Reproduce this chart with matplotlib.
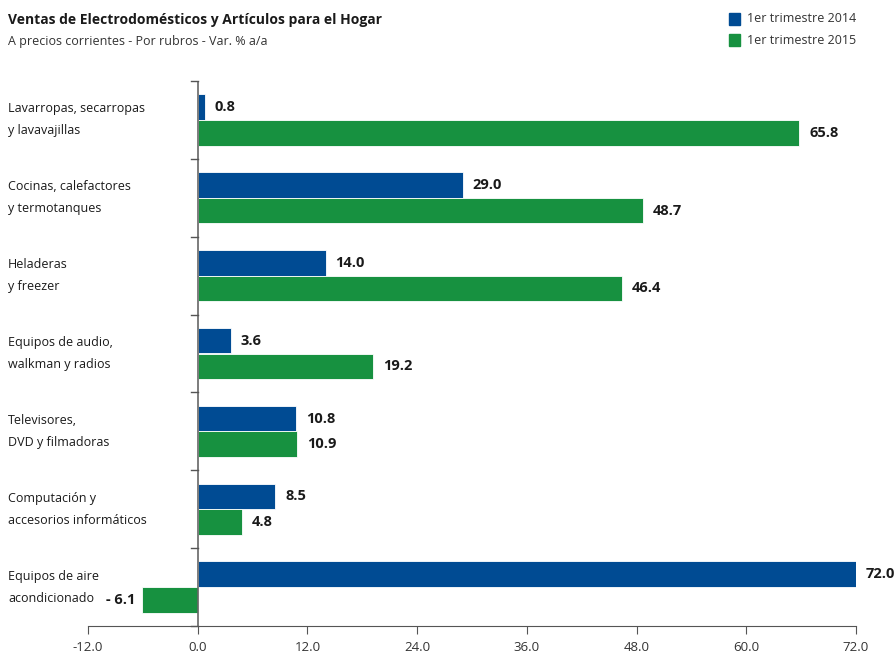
import numpy as np
import matplotlib.pyplot as plt
from matplotlib.patches import Rectangle

plt.rcParams['font.family'] = ['Open Sans', 'DejaVu Sans']

# rubros, de arriba hacia abajo
categories = [
    "Lavarropas, secarropas\ny lavavajillas",
    "Cocinas, calefactores\ny termotanques",
    "Heladeras\ny freezer",
    "Equipos de audio,\nwalkman y radios",
    "Televisores,\nDVD y filmadoras",
    "Computación y\naccesorios informáticos",
    "Equipos de aire\nacondicionado",
]
q1_2014 = [0.8, 29.0, 14.0, 3.6, 10.8, 8.5, 72.0]
q1_2015 = [65.8, 48.7, 46.4, 19.2, 10.9, 4.8, -6.1]
series_names = ["1er trimestre 2014", "1er trimestre 2015"]
xticks = [-12.0, 0.0, 12.0, 24.0, 36.0, 48.0, 60.0, 72.0]

BLUE = "#004b93"
GREEN = "#179140"
TXT = "#1a1a1a"

fig = plt.figure(figsize=(8.96, 6.53), dpi=100)
ax = fig.add_axes([88 / 896, 1 - 626 / 653, (856 - 88) / 896, (626 - 81) / 653])

n = len(categories)
centers = np.arange(n)
h = 0.33
ax.barh(centers - h / 2, q1_2014, height=h, color=BLUE, edgecolor="white", linewidth=0.6)
ax.barh(centers + h / 2, q1_2015, height=h, color=GREEN, edgecolor="white", linewidth=0.6)

ax.set_xlim(-12, 72)
ax.set_ylim(n - 0.5, -0.5)

# etiquetas de valor
for vals, off in ((q1_2014, -h / 2), (q1_2015, h / 2)):
    for i, v in enumerate(vals):
        if v >= 0:
            ax.annotate(f"{v:.1f}", (v, i + off), xytext=(7, 0), textcoords="offset points",
                        ha="left", va="center", fontsize=10.5, fontweight="bold", color=TXT)
        else:
            ax.annotate(f"- {abs(v):.1f}", (v, i + off), xytext=(-5, 0), textcoords="offset points",
                        ha="right", va="center", fontsize=10.5, fontweight="bold", color=TXT)

# ejes
for s in ("top", "right", "left"):
    ax.spines[s].set_visible(False)
ax.spines["bottom"].set_color("#555555")
ax.axvline(0, color="#666666", lw=1.2, zorder=3)
ax.set_xticks(xticks)
ax.set_xticklabels([f"{t:.1f}" for t in xticks], fontsize=9.5, color="#333333")
ax.tick_params(axis="x", length=6, color="#555555", pad=5)
ax.set_yticks([])
# marcas entre rubros sobre el eje del cero
for b in np.arange(-0.5, n, 1.0):
    ax.plot([-0.7, 0], [b, b], color="#555555", lw=1, clip_on=False, zorder=3)

# nombres de rubros
for i, c in enumerate(categories):
    y_disp = ax.transData.transform((0, i))[1]
    y_fig = fig.transFigure.inverted().transform((0, y_disp))[1]
    fig.text(8 / 896, y_fig, c, fontsize=9, color=TXT, ha="left", va="center", linespacing=1.9)

# título
fig.text(8 / 896, 1 - 20 / 653, "Ventas de Electrodomésticos y Artículos para el Hogar",
         fontsize=10, fontweight="bold", color=TXT, va="center")
fig.text(8 / 896, 1 - 41 / 653, "A precios corrientes - Por rubros - Var. % a/a",
         fontsize=9, color="#333333", va="center")

# leyenda
for k, (name, col) in enumerate(zip(series_names, (BLUE, GREEN))):
    yc = 1 - (19 + 21 * k) / 653
    fig.patches.append(Rectangle((729 / 896, yc - 6 / 653), 11 / 896, 12 / 653,
                                 transform=fig.transFigure, color=col, figure=fig))
    fig.text(747 / 896, yc, name, fontsize=9, color="#333333", va="center")

fig.savefig("out.png", dpi=100)
